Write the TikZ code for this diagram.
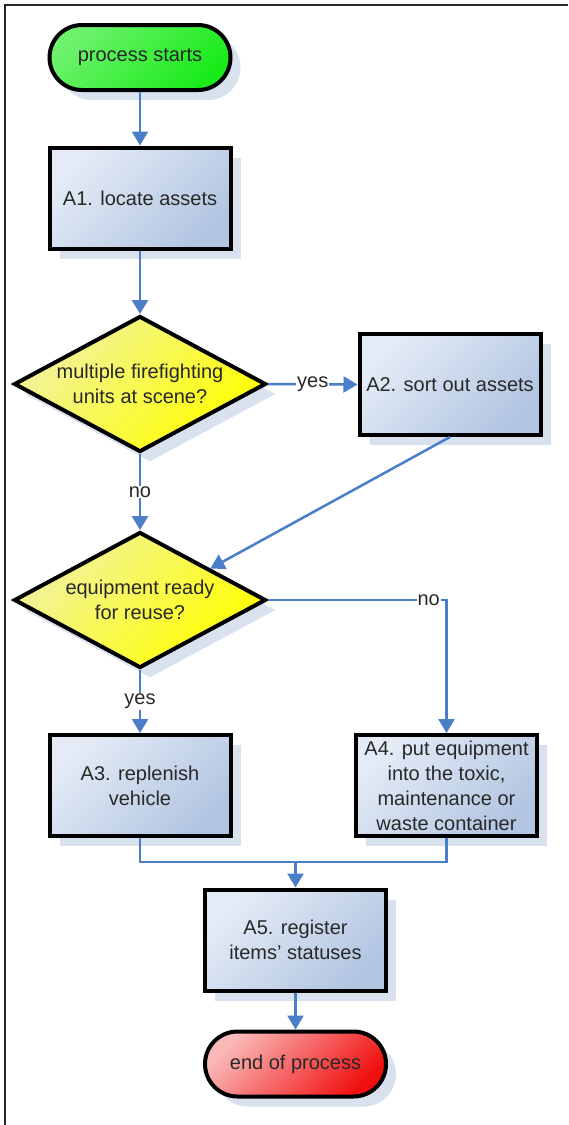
\documentclass[tikz,border=0pt]{standalone}
\usepackage{fontspec}
\setmainfont{Liberation Sans}
\usetikzlibrary{shapes.geometric,shadows,arrows.meta,calc}
\definecolor{connc}{RGB}{74,126,200}
\definecolor{boxlight}{RGB}{228,235,246}
\definecolor{boxdark}{RGB}{178,197,225}
\definecolor{shadowc}{RGB}{216,225,237}
\definecolor{textc}{RGB}{40,40,40}
\definecolor{greenlight}{RGB}{110,242,110}
\definecolor{greendark}{RGB}{25,235,25}
\definecolor{redlight}{RGB}{250,185,185}
\definecolor{reddark}{RGB}{240,15,15}
\definecolor{yellowlight}{RGB}{242,242,160}
\definecolor{yellowdark}{RGB}{255,255,0}
\tikzset{
  base/.style={draw=black, line width=4pt, align=center, text=textc,
    font=\fontsize{20}{25}\selectfont,
    drop shadow={shadow xshift=10pt, shadow yshift=-10pt, fill=shadowc, opacity=1}},
  procbox/.style={base, rectangle, minimum width=181pt, minimum height=101pt, inner sep=2pt,
    top color=boxlight, bottom color=boxdark, shading angle=45},
  startbox/.style={base, rectangle, rounded corners=32.5pt, minimum width=181pt, minimum height=65pt,
    top color=greenlight, bottom color=greendark, shading angle=45},
  endbox/.style={base, rectangle, rounded corners=32.5pt, minimum width=181pt, minimum height=65pt,
    top color=redlight, bottom color=reddark, shading angle=45},
  decbox/.style={base, diamond, aspect=1.85, minimum width=252pt, minimum height=136pt, inner sep=0pt,
    top color=yellowlight, bottom color=yellowdark, shading angle=45},
  conn/.style={draw=connc, line width=2.5pt, -{Triangle[length=14pt,width=16pt]}},
  connline/.style={draw=connc, line width=2.5pt},
  lab/.style={fill=white, inner sep=1pt, text=textc, font=\fontsize{20}{24}\selectfont}
}
\begin{document}
\begin{tikzpicture}[x=1pt,y=-1pt]
\useasboundingbox (0,0) rectangle (568,1125);
\fill[white] (0,0) rectangle (568,1125);
\draw[line width=2pt, black!85] (568,5) -- (5,5) -- (5,1125);

\node[startbox] (start) at (140,57.5) {process starts};
\node[procbox] (A1) at (140,198) {A1. locate assets};
\node[decbox] (D1) at (140,384) {multiple firefighting\\units at scene?};
\node[procbox] (A2) at (450,384.5) {A2. sort out assets};
\node[decbox] (D2) at (140,600) {equipment ready\\for reuse?};
\node[procbox] (A3) at (140,785.5) {A3. replenish\\vehicle};
\node[procbox] (A4) at (446.5,785.5) {A4. put equipment\\into the toxic,\\maintenance or\\waste container};
\node[procbox] (A5) at (295.5,940) {A5. register\\items' statuses};
\node[endbox] (end) at (295.5,1064) {end of process};

\coordinate (d2hit) at ($(D2.north)!0.55!(D2.east)$);
\coordinate (merge) at (295.5,862);

\draw[conn] (start) -- (A1);
\draw[conn] (A1) -- (D1);
\draw[conn] (D1.east) -- node[lab]{yes} (A2.west);
\draw[conn] (D1.south) -- node[lab]{no} (D2.north);
\draw[conn] (A2.south) -- (d2hit);
\draw[conn] (D2.east) -- node[lab,pos=0.9]{no} (D2.east -| A4.north) -- (A4.north);
\draw[conn] (D2.south) -- node[lab]{yes} (A3.north);
\draw[connline] (A3.south) |- (merge);
\draw[connline] (A4.south) |- (merge);
\draw[conn] (merge) -- (A5.north);
\draw[conn] (A5) -- (end);
\end{tikzpicture}
\end{document}
